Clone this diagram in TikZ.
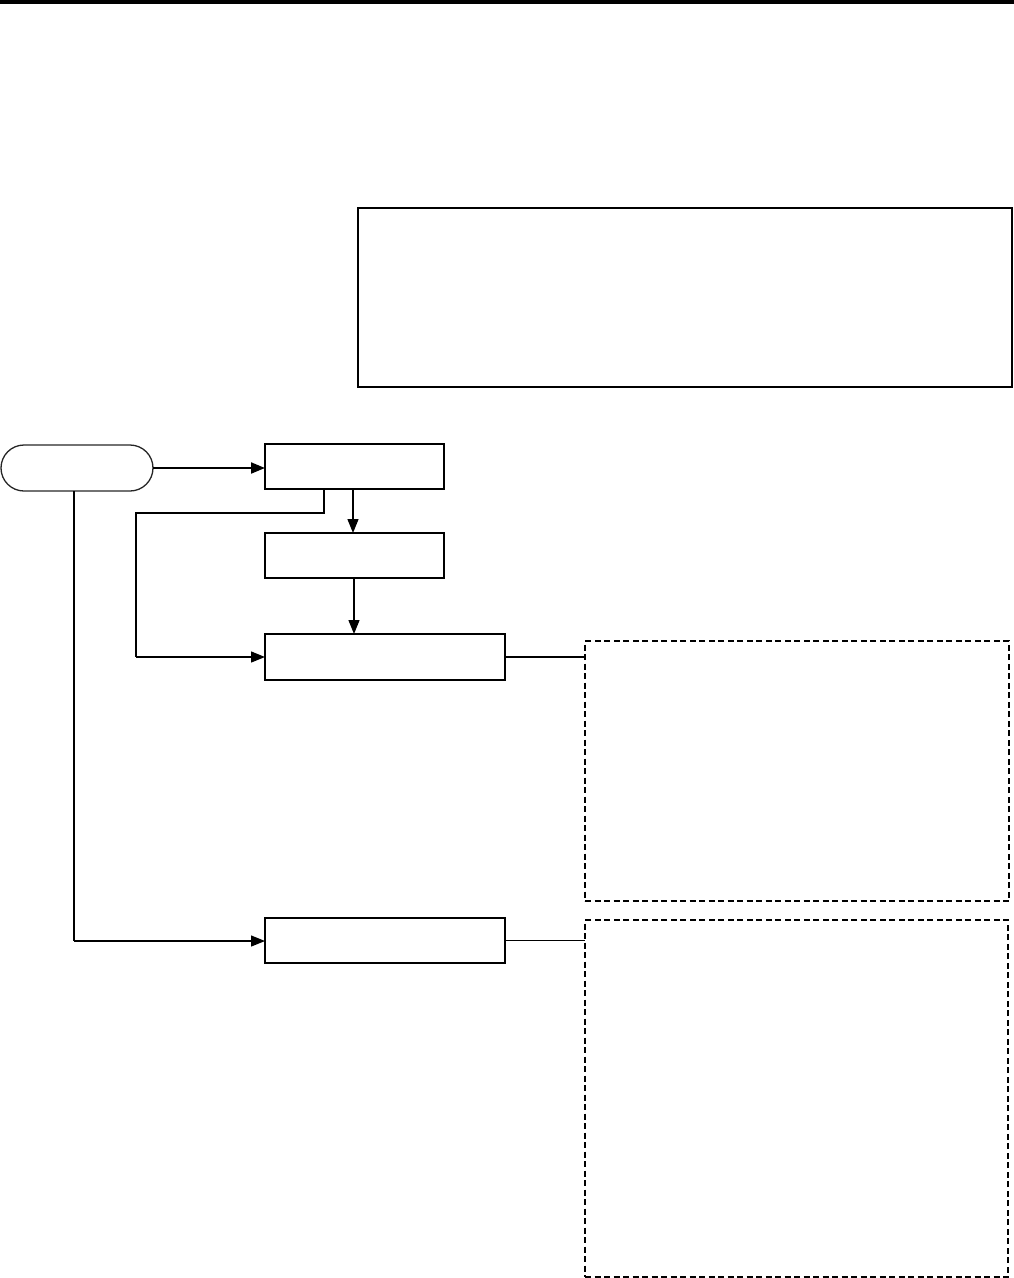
\documentclass[tikz,border=0pt]{standalone}
\usetikzlibrary{arrows.meta}
\begin{document}
\begin{tikzpicture}[x=1pt,y=-1pt,
  boxthick/.style={draw=black,line width=2pt,inner sep=0pt,outer sep=0pt},
  boxthin/.style={draw=black,line width=1.3pt,inner sep=0pt,outer sep=0pt},
  dashbox/.style={draw=black,line width=1.7pt,dash pattern=on 6pt off 3.5pt,inner sep=0pt,outer sep=0pt},
  dashboxthin/.style={draw=black,line width=1.4pt,dash pattern=on 6pt off 3.5pt,inner sep=0pt,outer sep=0pt},
  startbox/.style={draw=black!85,line width=1.3pt,rounded corners=23pt,inner sep=0pt,outer sep=0pt},
  arr/.style={-{Triangle[length=14pt,width=11pt]}},
  conn/.style={draw=black}]
\useasboundingbox (0,0) rectangle (1014,1278);
\fill[black] (0,0) rectangle (1014,4);

\node[boxthick,minimum width=654pt,minimum height=179pt] (top) at (685,297.5) {};
\node[startbox,minimum width=152pt,minimum height=46pt] (start) at (77,468) {};
\node[boxthick,minimum width=179pt,minimum height=45pt] (A) at (354.5,466.5) {};
\node[boxthin,minimum width=179pt,minimum height=45pt] (B) at (354.5,555.5) {};
\node[boxthick,minimum width=240pt,minimum height=46pt] (C) at (385,657) {};
\node[boxthick,minimum width=240pt,minimum height=45pt] (D) at (385,940.5) {};
\node[dashbox,minimum width=424pt,minimum height=260pt] (N1) at (797,771) {};
\node[dashboxthin,minimum width=423pt,minimum height=357pt] (N2) at (796.5,1098.5) {};

\coordinate (p1) at (324,513);
\coordinate (p2) at (136,513);
\coordinate (p3) at (136,657);
\coordinate (q1) at (74,941);

\draw[conn,line width=2pt,arr] (start.east) -- (start.east -| A.west);
\draw[conn,line width=1.3pt,arr] (A.south -| 353,0) -- (B.north -| 353,0);
\draw[conn,line width=1.3pt,arr] (B.south -| 354,0) -- (C.north -| 354,0);
\draw[conn,line width=1.5pt] (A.south -| p1) -- (p1) -- (p2) -- (p3);
\draw[conn,line width=1.3pt,arr] (p3) -- (p3 -| C.west);
\draw[conn,line width=1.3pt] (start.south -| q1) -- (q1);
\draw[conn,line width=1.3pt,arr] (q1) -- (q1 -| D.west);
\draw[conn,line width=2pt] (C.east) -- (C.east -| N1.west);
\draw[conn,line width=1.2pt] (D.east) -- (D.east -| N2.west);
\end{tikzpicture}
\end{document}
